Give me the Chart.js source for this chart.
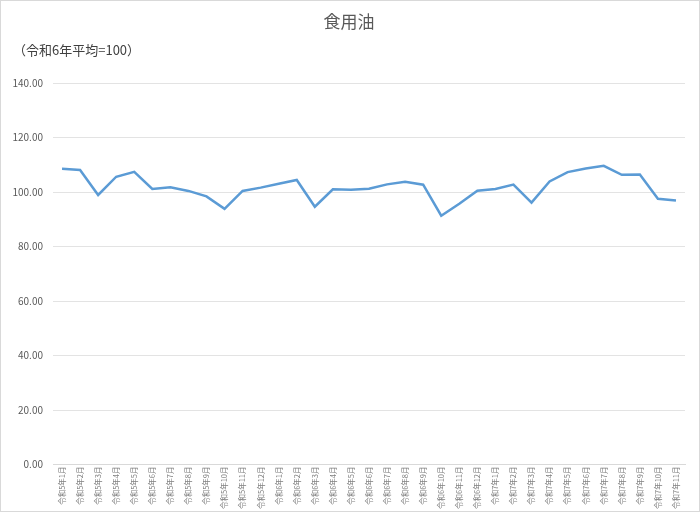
<!DOCTYPE html>
<html>
<head>
<meta charset="utf-8">
<script src="https://cdn.jsdelivr.net/npm/chart.js@4"></script>
<style>
  html, body { margin: 0; padding: 0; background: #fff; }
  #wrap { position: relative; width: 698px; height: 510px; border: 1px solid #d9d9d9; }
</style>
</head>
<body>
<div id="wrap"><canvas id="oil-line_chart"></canvas></div>
<script>
// months: 令和5年1月 .. 令和7年11月
var months = [];
for (var y = 5; y <= 7; y++) {
  for (var m = 1; m <= 12; m++) {
    if (y == 7 && m > 11) break;
    months.push("令和" + y + "年" + m + "月");
  }
}

// 食用油 index values (令和6年平均=100)
var oilIndex = [
  108.5, 108.1, 98.9, 105.6, 107.4, 101.1, 101.7, 100.4, 98.4, 93.8, 100.4, 101.6,
  103.0, 104.4, 94.6, 101.0, 100.8, 101.2, 102.8, 103.8, 102.7, 91.3, 95.7, 100.5,
  101.1, 102.7, 96.1, 103.9, 107.3, 108.6, 109.6, 106.3, 106.4, 97.5, 96.9
];

var yTicks = [0, 20, 40, 60, 80, 100, 120, 140];

var fontFamily = "'Noto Sans CJK JP', 'Noto Sans', sans-serif";

var chartdata = {
  labels: months,
  datasets: [
    {
      label: '食用油',
      data: oilIndex,
      borderColor: '#5b9bd5',
      backgroundColor: '#5b9bd5',
      borderWidth: 2.5,
      pointRadius: 0,
      tension: 0,
      fill: false
    }
  ]
};

var ctx = document.getElementById("oil-line_chart");

var lineGraph = new Chart(ctx, {
  type: 'line',
  data: chartdata,
  options: {
    responsive: true,
    maintainAspectRatio: false,
    animation: false,
    layout: { padding: { left: 12, right: 14, top: 4, bottom: 0 } },
    plugins: {
      legend: { display: false },
      tooltip: { enabled: false },
      title: {
        display: true,
        text: '食用油',
        color: '#595959',
        font: { family: fontFamily, size: 17, weight: 'normal' },
        padding: { top: 6, bottom: 9 }
      },
      subtitle: {
        display: true,
        text: '（令和6年平均=100）',
        align: 'start',
        color: '#404040',
        font: { family: fontFamily, size: 13, weight: 'normal' },
        padding: { top: 2, bottom: 25 }
      }
    },
    scales: {
      x: {
        offset: true,
        grid: { display: false, drawTicks: false },
        border: { display: true, color: '#d9d9d9', width: 1 },
        ticks: {
          autoSkip: false,
          maxRotation: 90,
          minRotation: 90,
          padding: 2,
          color: '#7f7f7f',
          font: { family: fontFamily, size: 7.5 }
        }
      },
      y: {
        min: 0,
        max: 140,
        afterBuildTicks: function(axis) {
          axis.ticks = yTicks.map(function(v) { return { value: v }; });
        },
        afterFit: function(axis) {
          axis.width = 40;
        },
        grid: { color: '#e3e3e3', drawTicks: false },
        border: { display: false },
        ticks: {
          padding: 10,
          color: '#595959',
          font: { family: fontFamily, size: 10 },
          callback: function(v) { return v.toFixed(2); }
        }
      }
    }
  }
});
</script>
</body>
</html>
